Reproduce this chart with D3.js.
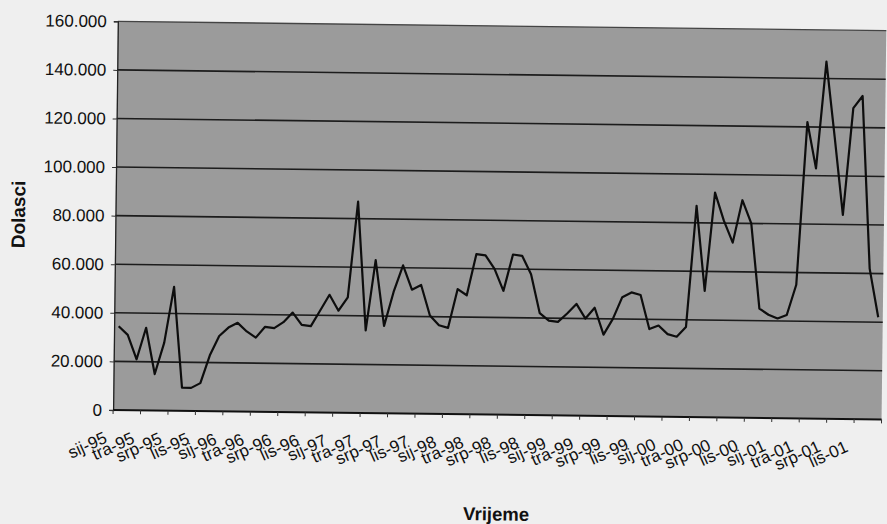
<!DOCTYPE html>
<html>
<head>
<meta charset="utf-8">
<script src="https://d3js.org/d3.v7.min.js"></script>
<style>
  body { margin: 0; background: #efefef; }
  text { font-family: "Liberation Sans", Arial, sans-serif; fill: #111; }
</style>
</head>
<body>
<script>
// Croatian month abbreviations and the years on the x axis
var monthNames = ["sij", "velj", "ožu", "tra", "svi", "lip", "srp", "kol", "ruj", "lis", "stu", "pro"];
var years = ["95", "96", "97", "98", "99", "00", "01"];

// Dolasci (arrivals) per month
var dolasci95 = [34500, 31000, 21000, 34000, 15000, 28000, 51000, 9500, 9500, 11500, 23000, 31000];
var dolasci96 = [34500, 36500, 33000, 30500, 35000, 34500, 37000, 41000, 36000, 35500, 42000, 48500];
var dolasci97 = [42000, 47500, 87000, 34000, 63000, 36000, 50000, 61000, 51000, 53000, 40500, 36500];
var dolasci98 = [35500, 51500, 49000, 66000, 65500, 60000, 51000, 66000, 65500, 58000, 42000, 39000];
var dolasci99 = [38500, 42000, 46000, 40000, 44500, 33500, 40000, 49000, 51000, 50000, 36000, 37500];
var dolasci00 = [34000, 33000, 37000, 87000, 52000, 92500, 81000, 72000, 89500, 80000, 45000, 42500];
var dolasci01 = [41000, 42500, 55000, 122000, 103000, 147000, 116000, 84000, 128000, 133000, 62000, 42000];

// y axis ticks
var yTicks = [0, 20000, 40000, 60000, 80000, 100000, 120000, 140000, 160000];

// Build the category list (sij-95 ... pro-01) and the series
var categories = [];
years.forEach(function (yr) {
  monthNames.forEach(function (m) { categories.push(m + "-" + yr); });
});
var values = [].concat(dolasci95, dolasci96, dolasci97, dolasci98, dolasci99, dolasci00, dolasci01);
var series = categories.map(function (c, i) { return {cat: c, value: values[i]}; });

// only every third month is labelled (sij, tra, srp, lis)
var tickCats = categories.filter(function (c, i) { return i % 3 == 0; });

/* ---------- layout ---------- */
var width = 887, height = 524;
var plot = {left: 115.5, right: 884, top: 26, bottom: 414.7};

// number format with dot as thousands separator
var hr = d3.formatLocale({decimal: ",", thousands: ".", grouping: [3], currency: ["", ""]});
var fmt = hr.format(",.0f");

var x = d3.scaleBand().domain(categories).range([plot.left, plot.right]).padding(0);
var y = d3.scaleLinear().domain([0, 160000]).range([plot.bottom, plot.top]);

var svg = d3.select("body").append("svg")
    .attr("width", width)
    .attr("height", height);

svg.append("rect")
    .attr("width", width).attr("height", height)
    .attr("fill", "#efefef");

// the scan is tilted slightly clockwise
var g = svg.append("g").attr("transform", "rotate(0.7,500,216)");

// grey plot area
g.append("rect")
    .attr("x", plot.left).attr("y", plot.top)
    .attr("width", plot.right - plot.left)
    .attr("height", plot.bottom - plot.top)
    .attr("fill", "#9b9b9b");

// horizontal gridlines
g.selectAll(".grid")
    .data(yTicks.slice(1, -1))
    .enter().append("line")
    .attr("class", "grid")
    .attr("x1", plot.left).attr("x2", plot.right)
    .attr("y1", function (d) { return y(d); })
    .attr("y2", function (d) { return y(d); })
    .attr("stroke", "#1c1c1c")
    .attr("stroke-width", 1.6);

// top border of plot
g.append("line")
    .attr("x1", plot.left).attr("x2", plot.right)
    .attr("y1", plot.top).attr("y2", plot.top)
    .attr("stroke", "#444").attr("stroke-width", 1.3);

// y axis
var yAxis = d3.axisLeft(y).tickValues(yTicks).tickSize(4).tickPadding(7).tickFormat(fmt);
var yg = g.append("g")
    .attr("transform", "translate(" + plot.left + ",0)")
    .call(yAxis);
yg.select(".domain").attr("stroke", "#222").attr("stroke-width", 1.3);
yg.selectAll(".tick line").attr("stroke", "#333");
yg.selectAll("text")
    .attr("font-size", "17px")
    .attr("fill", "#111");

// x axis line and tick marks every three months
g.append("line")
    .attr("x1", plot.left).attr("x2", plot.right)
    .attr("y1", plot.bottom).attr("y2", plot.bottom)
    .attr("stroke", "#111").attr("stroke-width", 2);

var tickPos = tickCats.map(function (c) { return x(c); }).concat([plot.right]);
g.selectAll(".xtick")
    .data(tickPos)
    .enter().append("line")
    .attr("class", "xtick")
    .attr("x1", function (d) { return d; })
    .attr("x2", function (d) { return d; })
    .attr("y1", plot.bottom).attr("y2", plot.bottom + 4)
    .attr("stroke", "#333");

// rotated month labels
g.selectAll(".xlabel")
    .data(tickCats)
    .enter().append("text")
    .attr("class", "xlabel")
    .attr("text-anchor", "end")
    .attr("font-size", "17px")
    .attr("transform", function (d) {
      return "translate(" + (x(d) - 4.5) + "," + (plot.bottom + 32) + ") rotate(-25)";
    })
    .text(function (d) { return d; });

// the series
var line = d3.line()
    .x(function (d) { return x(d.cat) + x.bandwidth() / 2; })
    .y(function (d) { return y(d.value); });

g.append("path")
    .datum(series)
    .attr("d", line)
    .attr("fill", "none")
    .attr("stroke", "#0d0d0d")
    .attr("stroke-width", 2.2)
    .attr("stroke-linejoin", "round");

// axis titles
g.append("text")
    .attr("transform", "translate(25," + ((plot.top + plot.bottom) / 2) + ") rotate(-90)")
    .attr("text-anchor", "middle")
    .attr("font-size", "19px")
    .attr("font-weight", "bold")
    .text("Dolasci");

g.append("text")
    .attr("x", (plot.left + plot.right) / 2)
    .attr("y", 520.5)
    .attr("text-anchor", "middle")
    .attr("font-size", "18.5px")
    .attr("font-weight", "bold")
    .text("Vrijeme");
</script>
</body>
</html>
